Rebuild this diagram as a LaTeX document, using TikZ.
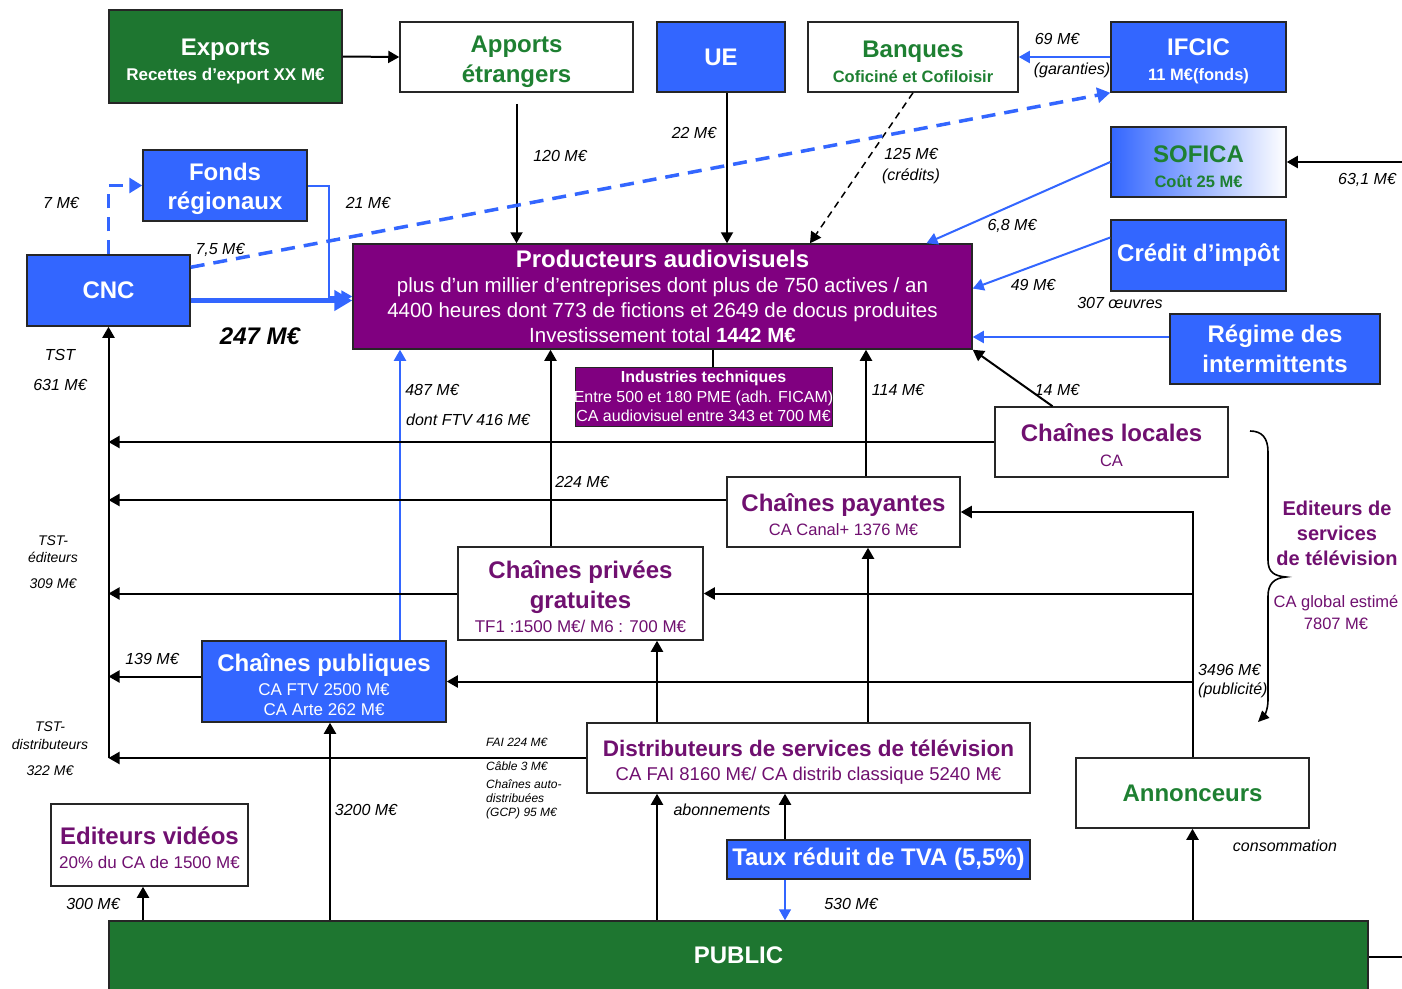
\documentclass[tikz,border=0pt]{standalone}
\usepackage{fontspec}
\setmainfont{Liberation Sans}
\usetikzlibrary{arrows.meta,calc}
\definecolor{myblue}{RGB}{51,102,255}
\definecolor{mygreen}{RGB}{30,118,48}
\definecolor{tgreen}{RGB}{30,128,50}
\definecolor{mypurp}{RGB}{128,0,128}
\definecolor{tpurp}{RGB}{112,16,112}
\newcommand\fz[2]{\fontsize{#1}{#2}\selectfont}
\newcommand\upstrut{\rule{0pt}{24pt}}
\newcommand\upstrutb{\rule{0pt}{26pt}}
\begin{document}
\begin{tikzpicture}[x=1pt,y=-1pt,
  bx/.style={draw=black!85, line width=1.5pt, inner sep=0pt, align=center},
  bbox/.style={bx, fill=myblue, text=white},
  wbox/.style={bx, fill=white},
  lab/.style={font=\fz{16}{19}\itshape, inner sep=0pt},
  slab/.style={font=\fz{14}{17}\itshape, inner sep=0pt},
  tlab/.style={font=\fz{12}{14}\itshape, inner sep=0pt, anchor=west},
  con/.style={line width=2pt, -{Triangle[length=11pt,width=12pt]}},
  bcon/.style={con, draw=myblue, line width=2pt},
  bdash/.style={bcon, line width=3.5pt, dash pattern=on 14pt off 9pt, -{Triangle[length=13pt,width=15pt]}},
  kdash/.style={con, line width=1.5pt, dash pattern=on 7pt off 5pt},
  thickb/.style={draw=myblue, line width=5pt, -{Triangle[length=18pt,width=20pt]}},
]
\useasboundingbox (0,0) rectangle (1402,988);
\fill[white] (0,0) rectangle (1402,988);
\clip (0,0) rectangle (1402,988);

% ---------- boxes ----------
\node[bx, fill=mygreen, text=white, minimum width=233, minimum height=93, font=\fz{17}{25}\bfseries] (exp) at (225.5,56.5) {\upstrutb{\fz{24}{25}Exports}\\Recettes d’export XX M€};
\node[wbox, text=tgreen, minimum width=233, minimum height=70, font=\fz{24}{30}\bfseries] (app) at (516.5,57) {\upstrutb Apports\\étrangers};
\node[bbox, minimum width=128, minimum height=70, font=\fz{24}{28}\bfseries] (ue) at (721,57) {UE};
\node[wbox, text=tgreen, minimum width=210, minimum height=70, font=\fz{16.5}{25}\bfseries] (ban) at (913,57) {\upstrutb{\fz{24}{25}Banques}\\Coficiné et Cofiloisir};
\node[bbox, minimum width=175, minimum height=70, font=\fz{16.5}{25}\bfseries] (ifc) at (1198.5,57) {\upstrutb{\fz{24}{25}IFCIC}\\11 M€(fonds)};
\node[bx, left color=myblue, right color=white, text=tgreen, minimum width=175, minimum height=70, font=\fz{16.5}{25}\bfseries] (sof) at (1198.5,162) {\upstrutb{\fz{24}{25}SOFICA}\\Coût 25 M€};
\node[bbox, minimum width=175, minimum height=71, font=\fz{24}{28}\bfseries] (cred) at (1198.5,255.5) {Crédit d’impôt};
\node[bbox, minimum width=210, minimum height=70, font=\fz{24}{30}\bfseries] (reg) at (1275,349) {Régime des\\intermittents};
\node[bbox, minimum width=164, minimum height=71, font=\fz{24}{29}\bfseries] (fon) at (225,185.5) {\upstrut Fonds\\régionaux};
\node[bbox, minimum width=163, minimum height=71, font=\fz{24}{28}\bfseries] (cnc) at (108.5,290.5) {CNC};
\node[bx, fill=mypurp, text=white, minimum width=619, minimum height=105, font=\fz{20.5}{25}] (prod) at (662.5,296.5) {{\fz{24}{25}\bfseries Producteurs audiovisuels}\\plus d’un millier d’entreprises dont plus de 750 actives / an\\4400 heures dont 773 de fictions et 2649 de docus produites\\Investissement total \textbf{1442 M€}};
\node[bx, fill=mypurp, line width=1pt, minimum width=257, minimum height=59] (it) at (703.5,396.5) {};
\node[text=white, align=center, inner sep=0pt, font=\fz{16}{19.5}] (itt) at (it.center) {\textbf{Industries techniques}\\Entre 500 et 180 PME (adh. FICAM)\\CA audiovisuel entre 343 et 700 M€};
\node[wbox, text=tpurp, minimum width=233, minimum height=70, font=\fz{16.5}{25}] (loc) at (1111.5,442) {\upstrut{\fz{24}{25}\bfseries Chaînes locales}\\CA};
\node[wbox, text=tpurp, minimum width=233, minimum height=70, font=\fz{16.5}{24}] (pay) at (843.5,512) {\upstrut{\fz{24}{24}\bfseries Chaînes payantes}\\CA Canal+ 1376 M€};
\node[wbox, text=tpurp, minimum width=245, minimum height=93, font=\fz{17}{24}] (prv) at (580.5,593.5) {\upstrut{\fz{24}{24}\bfseries Chaînes privées}\\[6pt]{\fz{24}{24}\bfseries gratuites}\\TF1 :1500 M€/ M6 : 700 M€};
\node[bbox, minimum width=244, minimum height=81, font=\fz{17}{20}] (pub) at (324,681.5) {\upstrut{\fz{24}{24}\bfseries Chaînes publiques}\\[4pt]CA FTV 2500 M€\\CA Arte 262 M€};
\node[wbox, text=tpurp, minimum width=443, minimum height=70, font=\fz{18.5}{24}] (dist) at (808.5,758) {\upstrut{\fz{22.5}{24}\bfseries Distributeurs de services de télévision}\\CA FAI 8160 M€/ CA distrib classique 5240 M€};
\node[wbox, text=tgreen, minimum width=233, minimum height=70, font=\fz{24}{28}\bfseries] (ann) at (1192.5,793) {Annonceurs};
\node[wbox, text=tpurp, minimum width=197, minimum height=82, font=\fz{17}{24}] (edv) at (149.5,845) {\upstrut{\fz{24}{24}\bfseries Editeurs vidéos}\\20\% du CA de 1500 M€};
\node[bbox, minimum width=303, minimum height=39, font=\fz{24}{28}\bfseries] (taux) at (878.5,859.5) {Taux réduit de TVA (5,5\%)};
\node[bx, fill=mygreen, text=white, minimum width=1259, minimum height=69, font=\fz{24}{28}\bfseries] (pbl) at (738.5,955.5) {PUBLIC};

% ---------- connectors ----------
\draw[con] (exp.east) -- (app.west);
\coordinate (appS) at ([yshift=-11pt]app.south);
\draw[con] (appS) -- (appS |- prod.north);
\coordinate (ueS) at ([xshift=6pt]ue.south);
\draw[con] (ueS) -- (ueS |- prod.north);
\draw[kdash] (ban.south) -- ([xshift=147.5pt]prod.north);
\draw[bcon] (ifc.west) -- (ban.east);
\draw[bdash] ([yshift=-13pt]cnc.north east) -- (ifc.south west);
\draw[bdash, line width=3pt] (cnc.north) |- (fon.west);
\coordinate (fk) at ([xshift=-23pt]prod.west);
\draw[bcon] (fon.east) -| (fk) -- (prod.west);
\coordinate (c1) at ([yshift=-10pt]cnc.east);
\draw[thickb] (c1) -- (c1 -| prod.west);
\draw[bcon] (sof.west) -- ([xshift=264pt]prod.north);
\draw[bcon] ([yshift=18pt]cred.west) -- ([yshift=8pt]prod.east);
\coordinate (rg) at ([yshift=12pt]reg.west);
\draw[bcon] (rg) -- (rg -| prod.east);
\coordinate (sofin) at (1402,162);
\draw[con] (sofin) -- (sof.east);
\draw[con] ([xshift=-59pt]loc.north) -- (prod.south east);
\coordinate (pubN) at ([xshift=76pt]pub.north);
\draw[bcon] (pubN) -- (pubN |- prod.south);
\coordinate (prvN) at ([xshift=-30pt]prv.north);
\draw[con] (prvN) -- (prvN |- prod.south);
\coordinate (payN) at ([xshift=22.5pt]pay.north);
\draw[con] (payN) -- (payN |- prod.south);
\coordinate (itN) at ([xshift=9.5pt]it.north);
\draw[line width=1.2pt] (itN |- prod.south) -- (itN);

\coordinate (cb) at (cnc.south |- dist.west);
\draw[con] (cb) -- (cnc.south);
\draw[con] (loc.west) -- (loc.west -| cnc.south);
\coordinate (payW) at ([yshift=12pt]pay.west);
\draw[con] (payW) -- (payW -| cnc.south);
\draw[con] (prv.west) -- (prv.west -| cnc.south);
\coordinate (pubW) at ([yshift=5pt]pub.west);
\draw[con] (pubW) -- (pubW -| cnc.south);
\draw[con] (dist.west) -- (cb);

\draw[con] (ann.north) |- (pay.east);
\draw[con] (ann.north |- prv.east) -- (prv.east);
\draw[con] (ann.north |- pub.east) -- (pub.east);

\coordinate (dA) at ([xshift=-151.5pt]dist.north);
\draw[con] (dA) -- (dA |- prv.south);
\coordinate (dB) at ([xshift=59.5pt]dist.north);
\draw[con] (dB) -- (dB |- pay.south);
\coordinate (dC) at ([xshift=-151.5pt]dist.south);
\draw[con] (dC |- pbl.north) -- (dC);
\coordinate (tN) at ([xshift=-93.5pt]taux.north);
\draw[con] (tN) -- (tN |- dist.south);
\coordinate (tS) at ([xshift=-93.5pt]taux.south);
\draw[bcon, line width=1.5pt] (tS) -- (tS |- pbl.north);
\coordinate (pS) at ([xshift=6pt]pub.south);
\draw[con] (pS |- pbl.north) -- (pS);
\coordinate (eS) at ([xshift=-6.5pt]edv.south);
\draw[con] (eS |- pbl.north) -- (eS);
\draw[con] (ann.south |- pbl.north) -- (ann.south);
\coordinate (pr) at (1402,957);
\draw[line width=2pt] (pbl.east |- pr) -- (pr);

% brace
\draw[line width=1.6pt, -{Triangle[length=11pt,width=10pt]}] (1250,431) .. controls (1262,431) and (1268,438) .. (1268,452) -- (1268,560) .. controls (1268,572) and (1274,576) .. (1286,577) .. controls (1274,578) and (1268,584) .. (1268,596) -- (1268,700) .. controls (1268,710) and (1264,716) .. (1258,722);
\node[text=tpurp, align=center, inner sep=0pt, font=\fz{20}{25}\bfseries] (eds) at (1337,533) {Editeurs de\\services\\de télévision};
\node[text=tpurp, align=center, inner sep=0pt, font=\fz{16.5}{22}] (cag) at (1336,612) {CA global estimé\\7807 M€};

% ---------- labels ----------
\node[lab] (l1) at (560,156) {120 M€};
\node[lab] (l2) at (694,133) {22 M€};
\node[lab, align=center, font=\fz{16}{21}\itshape] (l3) at (911,166) {125 M€\\(crédits)};
\node[lab] (l4) at (1057,39) {69 M€};
\node[lab] (l5) at (1072,70) {(garanties)};
\node[lab] (l6) at (61,203) {7 M€};
\node[lab] (l7) at (368,203) {21 M€};
\node[lab] (l8) at (220,250) {7,5 M€};
\node[lab, font=\fz{24}{28}\bfseries\itshape] (l9) at (260,336) {247 M€};
\node[lab] (l10) at (1012,226) {6,8 M€};
\node[lab] (l11) at (1033,285) {49 M€};
\node[lab] (l12) at (1120,303) {307 œuvres};
\node[lab] (l13) at (1367,180) {63,1 M€};
\node[lab] (l14) at (1057,390) {14 M€};
\node[lab] (l15) at (432,390) {487 M€};
\node[lab] (l16) at (468,420) {dont FTV 416 M€};
\node[lab] (l17) at (582,482) {224 M€};
\node[lab] (l18) at (898,390) {114 M€};
\node[lab] (l19) at (60,355) {TST};
\node[lab] (l20) at (60,385) {631 M€};
\node[slab, align=center, font=\fz{14}{17}\itshape] (l21) at (53,549.5) {TST-\\éditeurs};
\node[slab] (l22) at (53,584) {309 M€};
\node[slab, align=center, font=\fz{14}{18}\itshape] (l23) at (50,736) {TST-\\distributeurs};
\node[slab] (l24) at (50,771) {322 M€};
\node[lab] (l25) at (152,659) {139 M€};
\node[tlab] (l26) at (486,742) {FAI 224 M€};
\node[tlab] (l27) at (486,766) {Câble 3 M€};
\node[tlab] (l28) at (486,784) {Chaînes auto-};
\node[tlab] (l29) at (486,798.5) {distribuées};
\node[tlab] (l30) at (486,813) {(GCP) 95 M€};
\node[lab] (l31) at (366,810) {3200 M€};
\node[lab] (l32) at (722,810) {abonnements};
\node[lab] (l33) at (851,904) {530 M€};
\node[lab] (l34) at (93,904) {300 M€};
\node[lab] (l35) at (1285,846) {consommation};
\node[lab, anchor=west] (l36) at (1198,670) {3496 M€};
\node[lab, anchor=west] (l37) at (1198,690) {(publicité)};
\end{tikzpicture}
\end{document}
